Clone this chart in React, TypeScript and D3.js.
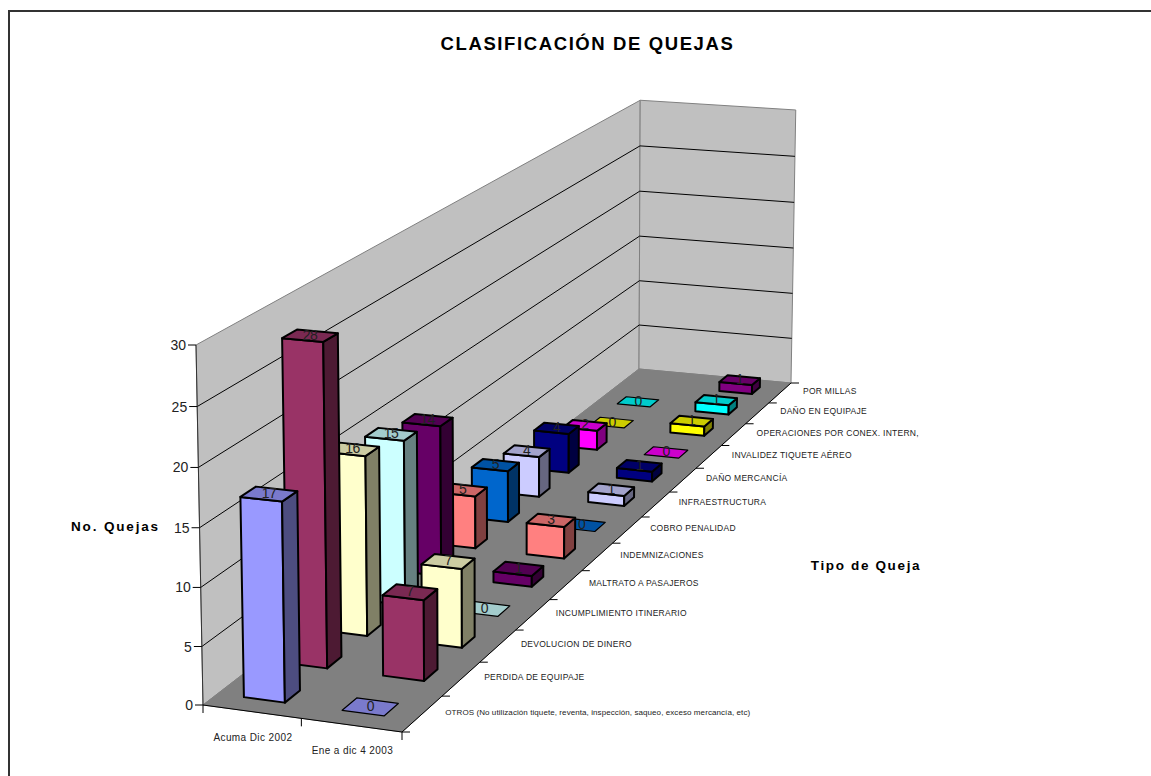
import React from "react";
import * as d3 from "d3";

const seriesNames = ["Acuma Dic 2002", "Ene a dic 4 2003"];
const categories = [
  "OTROS (No utilización tiquete, reventa, inspección, saqueo, exceso mercancía, etc)",
  "PERDIDA DE EQUIPAJE",
  "DEVOLUCION DE DINERO",
  "INCUMPLIMIENTO ITINERARIO",
  "MALTRATO A PASAJEROS",
  "INDEMNIZACIONES",
  "COBRO PENALIDAD",
  "INFRAESTRUCTURA",
  "DAÑO MERCANCÍA",
  "INVALIDEZ TIQUETE AÉREO",
  "OPERACIONES POR CONEX. INTERN,",
  "DAÑO EN EQUIPAJE",
  "POR MILLAS",
];
const acumulado: (number | null)[] = [17, 28, 16, 15, 14, 5, 5, 4, 4, 2, 0, 0, null];
const enero: (number | null)[] = [0, 7, 7, 0, 1, 3, 0, 1, 1, 0, 1, 1, 1];
const seriesValues = [acumulado, enero];
const colors = ["#9999FF", "#993366", "#FFFFCC", "#CCFFFF", "#660066", "#FF8080", "#0066CC", "#CCCCFF", "#000080", "#FF00FF", "#FFFF00", "#00FFFF", "#800080"];
const valueTicks = [0, 5, 10, 15, 20, 25, 30];

// Projective camera: floor corners in screen px, wall-top reference, perspective term.
const F00: [number, number] = [203, 705];
const F10: [number, number] = [402, 732];
const F11: [number, number] = [791, 383];
const F01: [number, number] = [639, 369];
const T00: [number, number] = [196, 345];
const J = -0.03;
const LEAN = 3.5;

const dx1 = F10[0] - F11[0], dx2 = F01[0] - F11[0], sx = F00[0] - F10[0] + F11[0] - F01[0];
const dy1 = F10[1] - F11[1], dy2 = F01[1] - F11[1], sy = F00[1] - F10[1] + F11[1] - F01[1];
const den = dx1 * dy2 - dx2 * dy1;
const G = (sx * dy2 - dx2 * sy) / den;
const I = (dx1 * sy - sx * dy1) / den;
const ax = F10[0] - F00[0] + G * F10[0], bx = F01[0] - F00[0] + I * F01[0];
const ay = F10[1] - F00[1] + G * F10[1], by = F01[1] - F00[1] + I * F01[1];
const cx = T00[0] * (1 + J) - F00[0], cy = T00[1] * (1 + J) - F00[1];

function project(u: number, d: number, h: number): [number, number] {
  const w = 1 + G * u + I * d + J * h;
  return [(F00[0] + ax * u + bx * d + cx * h) / w - LEAN * h * Math.sqrt(d), (F00[1] + ay * u + by * d + cy * h) / w];
}

const uScale = d3.scaleBand<number>().domain(d3.range(seriesNames.length)).range([-0.01, 0.99]).paddingInner(0.58).paddingOuter(0.29);
const dScale = d3.scaleBand<number>().domain(d3.range(categories.length)).range([0, 1]).paddingInner(0.65).paddingOuter(0.325);
const hScale = d3.scaleLinear().domain([0, 30]).range([0, 1]);

const poly = (pts: [number, number][]) => "M" + pts.map((p) => p.map((n) => n.toFixed(2)).join(",")).join("L") + "Z";
const seg = (a: [number, number], b: [number, number]) => "M" + a.join(",") + "L" + b.join(",");
const shade = (c: string, k: number) => {
  const r = d3.rgb(c);
  return d3.rgb(r.r * k, r.g * k, r.b * k).formatHex();
};

const FONT = "'Liberation Sans', Arial, sans-serif";

function Bar({ si, ci, value }: { si: number; ci: number; value: number }) {
  const u0 = uScale(si)!, u1 = u0 + uScale.bandwidth();
  const d0 = dScale(ci)!, d1 = d0 + dScale.bandwidth();
  const h = hScale(value);
  const c = colors[ci];
  const top = poly([project(u0, d0, h), project(u1, d0, h), project(u1, d1, h), project(u0, d1, h)]);
  const lab = project((u0 + u1) / 2, (d0 + d1) / 2, h);
  return (
    <g>
      {value > 0 && (
        <>
          <path d={poly([project(u0, d0, 0), project(u1, d0, 0), project(u1, d0, h), project(u0, d0, h)])} fill={c} stroke="#000" strokeWidth={2} strokeLinejoin="round" />
          <path d={poly([project(u1, d0, 0), project(u1, d1, 0), project(u1, d1, h), project(u1, d0, h)])} fill={shade(c, 0.5)} stroke="#000" strokeWidth={2} strokeLinejoin="round" />
        </>
      )}
      <path d={top} fill={shade(c, 0.8)} stroke="#000" strokeWidth={value > 0 ? 2 : 1.2} strokeLinejoin="round" />
      <text x={lab[0]} y={lab[1] + 4} textAnchor="middle" fontSize={14} fontFamily={FONT} fill="#222" letterSpacing={-0.5}>
        {value}
      </text>
    </g>
  );
}

export default function App() {
  const wallLeft = poly([project(0, 0, 0), project(0, 1, 0), project(0, 1, 1), project(0, 0, 1)]);
  const wallBack = poly([project(0, 1, 0), project(1, 1, 0), project(1, 1, 1), project(0, 1, 1)]);
  const floor = poly([project(0, 0, 0), project(1, 0, 0), project(1, 1, 0), project(0, 1, 0)]);
  const grid = valueTicks.filter((t) => t > 0 && t < 30);
  return (
    <svg width={1151} height={776} style={{ position: "fixed", left: 0, top: 0, background: "#fff" }}>
      <rect x={9} y={11} width={1180} height={800} fill="#fff" stroke="#333" strokeWidth={2} />
      <text x={587.5} y={50} textAnchor="middle" fontFamily={FONT} fontWeight="bold" fontSize={18.5} letterSpacing={1.6}>CLASIFICACIÓN DE QUEJAS</text>
      <path d={wallLeft} fill="#C0C0C0" stroke="#808080" />
      <path d={wallBack} fill="#C0C0C0" stroke="#808080" />
      <path d={floor} fill="#808080" stroke="#808080" />
      {grid.map((t) => (
        <g key={t}>
          <path d={seg(project(0, 0, hScale(t)), project(0, 1, hScale(t)))} stroke="#000" fill="none" />
          <path d={seg(project(0, 1, hScale(t)), project(1, 1, hScale(t)))} stroke="#000" fill="none" />
        </g>
      ))}
      {/* value axis */}
      <path d={seg(project(0, 0, 0), project(0, 0, 1))} stroke="#333" fill="none" />
      {valueTicks.map((t) => {
        const p = project(0, 0, hScale(t));
        return (
          <g key={t}>
            <path d={`M${p[0] - 8},${p[1]}L${p[0]},${p[1]}`} stroke="#000" />
            <text x={p[0] - 10} y={p[1] + 5} textAnchor="end" fontFamily={FONT} fontSize={14} fill="#222">{t}</text>
          </g>
        );
      })}
      {/* series axis */}
      <path d={seg(project(0, 0, 0), project(1, 0, 0))} stroke="#000" fill="none" />
      {d3.range(seriesNames.length + 1).map((i) => {
        const p = project(i / seriesNames.length, 0, 0);
        return <path key={i} d={`M${p[0]},${p[1]}L${p[0]},${p[1] + 8}`} stroke="#000" />;
      })}
      {seriesNames.map((s, i) => {
        const p = project((i + 0.5) / seriesNames.length, 0, 0);
        return (
          <text key={s} x={p[0] + 1} y={p[1] + 29} textAnchor="middle" fontFamily={FONT} fontSize={10} letterSpacing={0.4} fill="#222">{s}</text>
        );
      })}
      {/* category axis */}
      <path d={seg(project(1, 0, 0), project(1, 1, 0))} stroke="#000" fill="none" />
      {d3.range(categories.length + 1).map((i) => {
        const p = project(1, i / categories.length, 0);
        return <path key={i} d={`M${p[0]},${p[1]}L${p[0] + 8},${p[1]}`} stroke="#000" />;
      })}
      {categories.map((c, i) => {
        const p = project(1, (i + 0.5) / categories.length, 0);
        const longLabel = c.length > 40;
        return (
          <text key={c} x={p[0] + 23} y={p[1] + 1} fontFamily={FONT} fontSize={longLabel ? 8 : 8.5} letterSpacing={longLabel ? 0.08 : 0.26} fill="#222">{c}</text>
        );
      })}
      {/* bars, back to front */}
      {seriesValues.map((vals, si) =>
        d3.range(categories.length - 1, -1, -1).map((ci) =>
          vals[ci] === null ? null : <Bar key={si + "-" + ci} si={si} ci={ci} value={vals[ci] as number} />
        )
      )}
      <text x={115.5} y={531} textAnchor="middle" fontFamily={FONT} fontWeight="bold" fontSize={13.5} letterSpacing={1.84}>No. Quejas</text>
      <text x={866} y={570} textAnchor="middle" fontFamily={FONT} fontWeight="bold" fontSize={13.5} letterSpacing={1.65}>Tipo de Queja</text>
    </svg>
  );
}
